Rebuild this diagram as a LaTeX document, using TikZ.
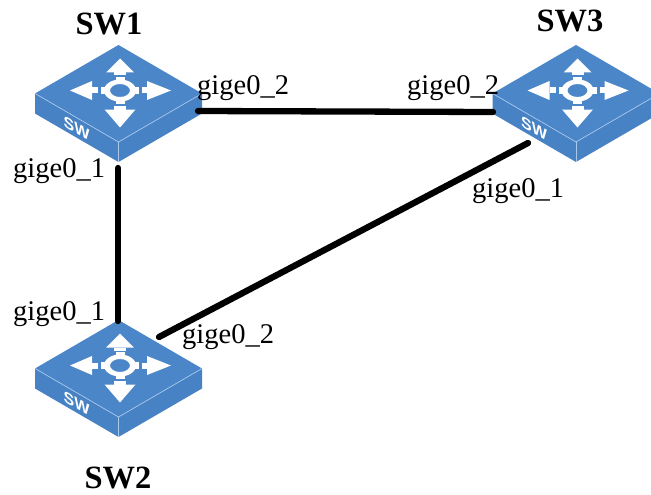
\documentclass[tikz,border=0pt]{standalone}
\usepackage{fontspec}
\setmainfont{Liberation Serif}
\newfontfamily\swfont{Liberation Sans}
\definecolor{swtop}{HTML}{4A86C8}
\definecolor{swside}{HTML}{4782C4}
\definecolor{swedge}{HTML}{A9C8EC}
\tikzset{
  link/.style={line width=6.3pt, line cap=round, black},
  portlabel/.style={font=\fontsize{28.5}{30}\selectfont, inner sep=0pt, anchor=base west},
  swname/.style={font=\fontsize{32.5}{34}\selectfont\bfseries, inner sep=0pt, anchor=base},
  switch/.pic={
    % side faces
    \fill[swside] (-83.5,0) -- (0,48.5) -- (0,68.5) -- (-83.5,20) -- cycle;
    \fill[swside] (0,48.5) -- (83.5,0) -- (83.5,20) -- (0,68.5) -- cycle;
    % top face
    \fill[swtop] (0,-48.5) -- (83.5,0) -- (0,48.5) -- (-83.5,0) -- cycle;
    \draw[swedge, line width=0.7pt] (-83.5,0) -- (0,48.5) -- (83.5,0);
    \draw[swedge, line width=0.7pt] (0,48.5) -- (0,68.5);
    % symbol
    \begin{scope}[shift={(1.5,-3)}]
      \fill[white, even odd rule] (0,0) ellipse [x radius=16, y radius=11]
                                  (0,0) ellipse [x radius=10, y radius=6.5];
      \fill[white] (-19,-3.5) rectangle (-14,3.5);
      \fill[white] (14,-3.5) rectangle (19,3.5);
      \fill[white] (-4.5,-13.5) rectangle (4.5,-9.5);
      \fill[white] (-4.5,9.5) rectangle (4.5,13.5);
      % up
      \fill[white] (-6,-18) rectangle (6,-15);
      \fill[white] (-14,-18) -- (0,-32) -- (14,-18) -- cycle;
      % down
      \fill[white] (-6,15) rectangle (6,19);
      \fill[white] (-15.5,19) -- (0,37) -- (15.5,19) -- cycle;
      % left
      \fill[white] (-28,-3) rectangle (-22,3);
      \fill[white] (-28,-9.5) -- (-50,0) -- (-28,9.5) -- cycle;
      % right
      \fill[white] (22,-3) rectangle (27,3);
      \fill[white] (27,-9.5) -- (51,0) -- (27,9.5) -- cycle;
    \end{scope}
    \node[text=white, font=\swfont\bfseries\fontsize{16}{17}\selectfont, inner sep=0pt, yslant=-0.58] (-sw) at (-42,35) {SW};
  }
}
\begin{document}
\begin{tikzpicture}[x=1pt, y=-1pt]
  \clip (0,0) rectangle (651,495);
  \fill[white] (0,0) rectangle (651,495);

  % switches
  \pic (sw1) at (118.5,93.5) {switch};
  \pic (sw2) at (118.5,368.5) {switch};
  \pic (sw3) at (576,93.5) {switch};

  % ports
  \coordinate (sw1p1) at (118,168);
  \coordinate (sw1p2) at (198,111);
  \coordinate (sw2p1) at (118,321);
  \coordinate (sw2p2) at (159,337);
  \coordinate (sw3p1) at (528,143);
  \coordinate (sw3p2) at (493,112);

  % links
  \draw[link] (sw1p2) -- (sw3p2);
  \draw[link] (sw1p1) -- (sw2p1);
  \draw[link] (sw2p2) -- (sw3p1);

  % names
  \node[swname] (n1) at (109,35) {SW1};
  \node[swname] (n2) at (118,488.5) {SW2};
  \node[swname] (n3) at (570,31.5) {SW3};

  % port labels
  \node[portlabel] (l12) at (197,95) {gige0\_2};
  \node[portlabel] (l11) at (13,177) {gige0\_1};
  \node[portlabel] (l32) at (407,95) {gige0\_2};
  \node[portlabel] (l31) at (472,197) {gige0\_1};
  \node[portlabel] (l21) at (13,320) {gige0\_1};
  \node[portlabel] (l22) at (182,343) {gige0\_2};
\end{tikzpicture}
\end{document}
